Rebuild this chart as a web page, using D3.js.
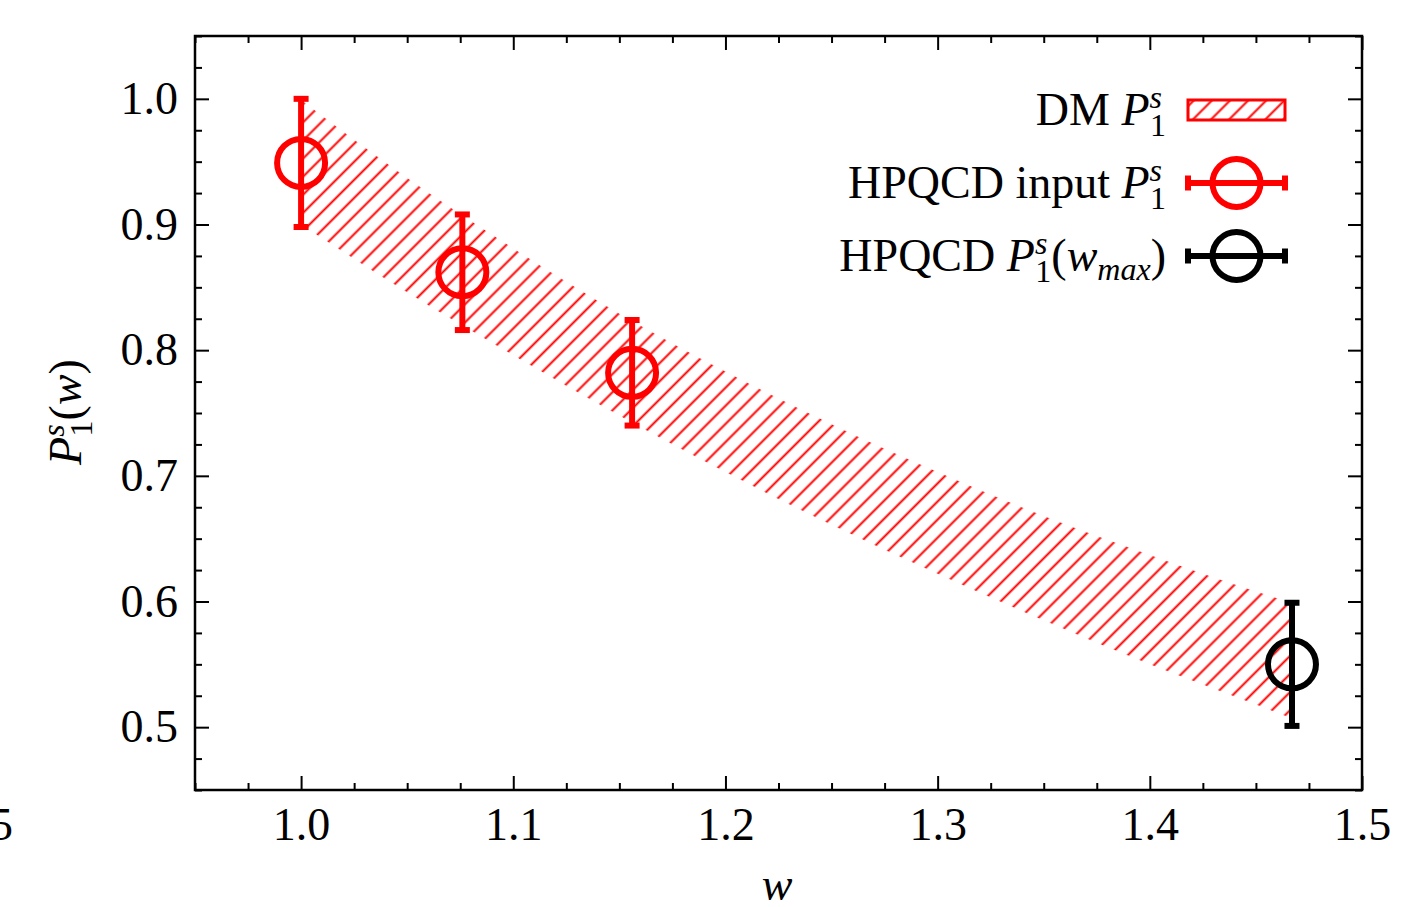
<!DOCTYPE html>
<html>
<head>
<meta charset="utf-8">
<script src="https://cdn.jsdelivr.net/npm/d3@7"></script>
<style>
  html, body { margin: 0; padding: 0; background: #fff; }
  svg { display: block; }
  text { font-family: "Liberation Serif", "DejaVu Serif", serif; fill: #000; }
</style>
</head>
<body>
<svg id="chart" width="1413" height="907"></svg>
<script>
// ---------------- data ----------------
const bandW  = [1.0, 1.05, 1.1, 1.15, 1.2, 1.25, 1.3, 1.35, 1.4, 1.45, 1.467];
const bandHi = [0.999, 0.937, 0.881, 0.829, 0.783, 0.741, 0.703, 0.668, 0.637, 0.608, 0.599];
const bandLo = [0.900, 0.846, 0.796, 0.748, 0.703, 0.661, 0.622, 0.585, 0.550, 0.518, 0.507];

const inputW   = [1.0, 1.076, 1.156];
const inputP   = [0.949, 0.862, 0.782];
const inputErr = [0.051, 0.046, 0.042];

const maxW   = [1.467];
const maxP   = [0.550];
const maxErr = [0.049];

const xTickLabels = ["1.0", "1.1", "1.2", "1.3", "1.4", "1.5"];
const yTickLabels = ["0.5", "0.6", "0.7", "0.8", "0.9", "1.0"];
const xMajor = [1.0, 1.1, 1.2, 1.3, 1.4, 1.5];
const yMajor = [0.5, 0.6, 0.7, 0.8, 0.9, 1.0];

// ---------------- layout ----------------
const L = 195, R = 1362, T = 36, B = 790;
const FS = 46;
const RED = "#ff0000";

const svg = d3.select("#chart");
const x = d3.scaleLinear().domain([0.95, 1.5]).range([L, R]);
const y = d3.scaleLinear().domain([0.45, 1.05]).range([B, T]);

const xMinor = d3.range(38, 61).filter(i => i % 4 !== 0).map(i => i * 0.025);
const yMinor = d3.range(18, 43).filter(i => i % 4 !== 0).map(i => i * 0.025);

// hatch pattern
const defs = svg.append("defs");
function hatch(id) {
  const p = defs.append("pattern")
    .attr("id", id)
    .attr("patternUnits", "userSpaceOnUse")
    .attr("width", 12.8).attr("height", 12.8)
    .attr("patternTransform", "rotate(45)");
  p.append("line")
    .attr("x1", 6.4).attr("y1", -1).attr("x2", 6.4).attr("y2", 14)
    .attr("stroke", RED).attr("stroke-width", 2);
}
hatch("hatch");
hatch("hatchLeg");

// ---------------- axes (ticks inward on all sides) ----------------
function styleAxis(g) {
  g.select(".domain").remove();
  g.selectAll(".tick line").attr("stroke", "#000").attr("stroke-width", 2);
  g.selectAll("text").attr("font-size", FS).attr("font-family", "Liberation Serif, serif").attr("fill", "#000");
}
// bottom major with labels
svg.append("g").attr("transform", `translate(0,${B})`)
  .call(d3.axisBottom(x).tickValues(xMajor).tickSize(-14).tickPadding(17)
    .tickFormat((d, i) => xTickLabels[i]))
  .call(styleAxis);
svg.append("g").attr("transform", `translate(0,${B})`)
  .call(d3.axisBottom(x).tickValues(xMinor).tickSize(-7).tickFormat(""))
  .call(styleAxis);
// top
svg.append("g").attr("transform", `translate(0,${T})`)
  .call(d3.axisTop(x).tickValues(xMajor).tickSize(-14).tickFormat(""))
  .call(styleAxis);
svg.append("g").attr("transform", `translate(0,${T})`)
  .call(d3.axisTop(x).tickValues(xMinor).tickSize(-7).tickFormat(""))
  .call(styleAxis);
// left
svg.append("g").attr("transform", `translate(${L},0)`)
  .call(d3.axisLeft(y).tickValues(yMajor).tickSize(-14).tickPadding(17)
    .tickFormat((d, i) => yTickLabels[i]))
  .call(styleAxis);
svg.append("g").attr("transform", `translate(${L},0)`)
  .call(d3.axisLeft(y).tickValues(yMinor).tickSize(-7).tickFormat(""))
  .call(styleAxis);
// right
svg.append("g").attr("transform", `translate(${R},0)`)
  .call(d3.axisRight(y).tickValues(yMajor).tickSize(-14).tickFormat(""))
  .call(styleAxis);
svg.append("g").attr("transform", `translate(${R},0)`)
  .call(d3.axisRight(y).tickValues(yMinor).tickSize(-7).tickFormat(""))
  .call(styleAxis);

// stray partial label at far left (as in the reference)
svg.append("text").attr("x", 13).attr("y", 840).attr("text-anchor", "end")
  .attr("font-size", FS).text("0.95");

// ---------------- band ----------------
const bandData = bandW.map((w, i) => ({ w, lo: bandLo[i], hi: bandHi[i] }));
svg.append("path").datum(bandData)
  .attr("d", d3.area().x(d => x(d.w)).y0(d => y(d.lo)).y1(d => y(d.hi)).curve(d3.curveMonotoneX))
  .attr("fill", "url(#hatch)").attr("stroke", "none");

// ---------------- points with error bars ----------------
function points(ws, ps, es, color) {
  const g = svg.append("g");
  const data = ws.map((w, i) => ({ w, p: ps[i], e: es[i] }));
  const sel = g.selectAll("g.pt").data(data).join("g").attr("class", "pt");
  sel.append("line")
    .attr("x1", d => x(d.w)).attr("x2", d => x(d.w))
    .attr("y1", d => y(d.p - d.e)).attr("y2", d => y(d.p + d.e))
    .attr("stroke", color).attr("stroke-width", 6);
  [-1, 1].forEach(s => {
    sel.append("line")
      .attr("x1", d => x(d.w) - 7.5).attr("x2", d => x(d.w) + 7.5)
      .attr("y1", d => y(d.p + s * d.e)).attr("y2", d => y(d.p + s * d.e))
      .attr("stroke", color).attr("stroke-width", 6);
  });
  sel.append("circle")
    .attr("cx", d => x(d.w)).attr("cy", d => y(d.p)).attr("r", 24)
    .attr("fill", "none").attr("stroke", color).attr("stroke-width", 6);
}
points(inputW, inputP, inputErr, RED);
points(maxW, maxP, maxErr, "#000");

// ---------------- frame ----------------
svg.append("rect").attr("x", L).attr("y", T).attr("width", R - L).attr("height", B - T)
  .attr("fill", "none").attr("stroke", "#000").attr("stroke-width", 2.5);

// ---------------- math text helper ----------------
function mathText(sel, parts) {
  parts.forEach(p => {
    const t = sel.append("tspan").text(p.t);
    if (p.it) t.attr("font-style", "italic");
    if (p.fs) t.attr("font-size", p.fs);
    if (p.dx) t.attr("dx", p.dx);
    if (p.dy) t.attr("dy", p.dy);
  });
}
const SS = 32;
const P1s = [
  { t: "P", it: true },
  { t: "s", it: true, fs: SS, dy: -17 },
  { t: "1", fs: SS, dx: -12, dy: 28 }
];

// axis labels
const xl = svg.append("text").attr("x", 777).attr("y", 900).attr("text-anchor", "middle").attr("font-size", FS);
mathText(xl, [{ t: "w", it: true }]);

const yl = svg.append("text").attr("transform", "translate(81,412) rotate(-90)")
  .attr("text-anchor", "middle").attr("font-size", FS);
mathText(yl, P1s.concat([{ t: "(", dy: -11 }, { t: "w", it: true }, { t: ")" }]));

// ---------------- legend ----------------
const legX = 1166, symL = 1188, symR = 1285, symC = (symL + symR) / 2;
const rows = [110, 183, 256];

const t1 = svg.append("text").attr("x", legX).attr("y", rows[0] + 15).attr("text-anchor", "end").attr("font-size", FS);
mathText(t1, [{ t: "DM " }].concat(P1s));
svg.append("rect").attr("x", symL).attr("y", rows[0] - 10).attr("width", symR - symL).attr("height", 20)
  .attr("fill", "url(#hatchLeg)").attr("stroke", RED).attr("stroke-width", 3);

const t2 = svg.append("text").attr("x", legX).attr("y", rows[1] + 15).attr("text-anchor", "end").attr("font-size", FS);
mathText(t2, [{ t: "HPQCD input " }].concat(P1s));

const t3 = svg.append("text").attr("x", legX).attr("y", rows[2] + 15).attr("text-anchor", "end").attr("font-size", FS);
mathText(t3, [{ t: "HPQCD " }].concat(P1s).concat([
  { t: "(", dy: -11 }, { t: "w", it: true }, { t: "max", it: true, fs: SS, dy: 9 }, { t: ")", dy: -9 }
]));

function legPoint(cy, color) {
  const g = svg.append("g");
  g.append("line").attr("x1", symL).attr("x2", symR).attr("y1", cy).attr("y2", cy)
    .attr("stroke", color).attr("stroke-width", 6);
  [symL, symR].forEach(xx => g.append("line").attr("x1", xx).attr("x2", xx)
    .attr("y1", cy - 7.5).attr("y2", cy + 7.5).attr("stroke", color).attr("stroke-width", 6));
  g.append("circle").attr("cx", symC).attr("cy", cy).attr("r", 24)
    .attr("fill", "none").attr("stroke", color).attr("stroke-width", 6);
}
legPoint(rows[1], RED);
legPoint(rows[2], "#000");
</script>
</body>
</html>
